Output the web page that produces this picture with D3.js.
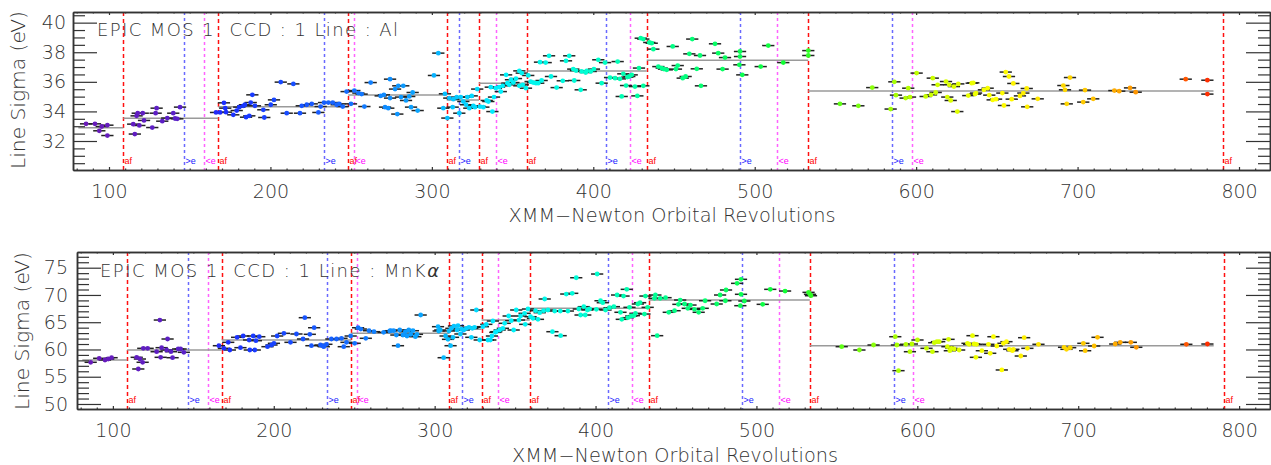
<!DOCTYPE html>
<html>
<head>
<meta charset="utf-8">
<script src="https://cdn.jsdelivr.net/npm/d3@7"></script>
<style>
  body { margin: 0; background: #fff; }
  svg text { font-family: "DejaVu Sans", "Liberation Sans", sans-serif; font-weight: 200; fill: #333; }
</style>
</head>
<body>
<svg id="chart" width="1271" height="465"></svg>
<script>
// ---- Al line width per observation (revolution, sigma in eV) ----
const alRev = [85.8,91.3,94.0,95.5,99.0,99.0,115.0,116.0,117.1,117.8,118.8,120.9,121.7,126.8,128.9,129.5,133.0,136.1,139.8,140.9,142.3,144.0,
  166.3,168.8,171.2,172.0,172.5,177.0,179.1,180.7,183.2,184.2,184.9,186.9,187.8,188.8,190.4,195.6,196.2,200.2,202.2,206.4,210.1,214.2,218.3,219.4,222.5,225.6,229.7,231.1,233.2,
  235.9,238.6,241.0,242.7,244.8,247.2,249.9,252.0,254.5,256.5,258.2,262.1,268.3,270.3,271.0,273.0,274.1,274.1,277.2,278.6,279.2,280.9,282.3,284.0,286.0,287.1,288.1,291.2,
  301.3,304.0,307.1,308.1,309.6,310.8,312.9,313.3,315.4,317.0,317.9,319.5,321.2,322.0,323.2,324.7,325.7,326.7,328.1,329.8,331.9,334.0,335.0,336.5,337.5,338.5,339.6,341.6,342.7,343.9,
  346.0,346.8,348.0,349.0,350.5,352.1,354.2,354.2,355.7,356.3,358.3,359.7,361.2,362.8,364.5,365.9,367.0,368.0,370.5,372.6,373.8,377.3,381.1,383.1,385.1,387.6,388.2,389.3,392.2,392.8,
  395.3,395.9,398.4,400.4,403.1,405.2,407.3,410.4,413.5,415.1,416.5,417.6,418.6,420.3,421.1,422.3,423.8,425.8,427.3,428.3,429.4,431.0,431.0,
  434.7,436.2,437.2,440.3,442.4,443.8,445.5,449.2,451.2,452.3,455.4,457.2,459.5,461.3,464.1,466.1,466.7,475.4,477.4,480.1,481.6,490.5,490.9,490.9,492.3,503.7,508.4,517.7,533.2,533.2,
  552.8,564.2,572.8,584.2,586.5,587.5,593.5,595.1,596.2,600.3,605.9,609.2,610.3,612.1,613.3,618.5,619.3,620.5,621.4,623.4,625.5,626.1,632.3,634.4,635.4,636.5,637.1,
  642.0,644.3,645.3,647.4,649.5,653.4,654.4,655.5,657.5,659.2,660.2,664.3,666.4,668.5,668.8,675.3,691.2,692.2,693.3,695.3,703.5,704.6,709.7,722.8,725.8,732.5,736.0,767.0,780.4,780.4];
const alSigma = [33.16,33.16,32.69,32.98,33.07,32.37,33.14,32.47,33.70,33.88,33.05,33.88,33.39,32.91,33.88,34.22,33.34,33.55,33.88,33.52,33.50,34.29,
  33.93,33.93,34.58,34.22,33.95,33.77,34.06,34.29,34.38,34.45,33.61,33.70,34.60,35.12,34.38,34.11,33.59,34.45,34.78,35.98,33.88,35.86,33.88,34.38,34.45,34.51,33.93,34.33,34.60,
  34.60,34.60,34.45,34.51,34.33,35.34,34.51,35.41,35.24,35.17,34.33,35.95,35.05,35.12,34.29,34.22,36.18,34.90,35.51,33.82,35.73,34.97,35.73,34.74,35.01,34.29,35.28,34.06,
  36.43,37.94,34.22,35.19,33.55,34.90,34.29,34.83,34.97,33.88,34.97,34.67,34.45,34.97,34.22,35.05,34.38,34.29,35.51,34.33,34.29,34.74,34.67,35.64,33.99,34.97,35.57,35.64,35.34,35.73,
  36.47,35.91,35.80,36.14,35.95,36.22,36.74,35.73,36.59,35.80,35.57,36.43,36.02,35.95,35.91,35.91,37.33,36.09,37.30,37.76,36.36,35.61,36.07,37.42,37.76,36.86,36.09,36.76,35.46,36.70,
  36.63,36.74,36.70,36.86,37.49,35.91,37.30,36.29,36.25,37.37,36.20,35.01,36.54,35.75,36.32,36.36,36.47,35.68,35.05,36.93,38.95,38.89,35.73,
  38.66,38.61,38.21,37.03,36.93,36.86,36.81,38.39,36.86,37.10,36.25,36.36,37.89,38.89,36.88,37.78,35.73,38.57,37.94,36.86,37.64,37.15,38.05,37.71,36.47,37.03,38.45,37.30,38.11,37.78,
  34.51,34.38,35.61,34.16,36.00,35.10,34.90,35.57,34.97,36.59,35.01,35.12,36.25,35.28,35.80,36.02,34.97,35.80,34.74,35.68,33.99,35.86,35.07,35.91,35.93,35.17,35.24,
  35.46,35.57,35.10,34.78,34.83,35.24,34.40,36.66,36.36,34.83,35.89,35.05,35.24,35.55,34.31,34.85,35.75,35.46,34.51,36.29,34.63,35.44,34.85,35.41,35.37,35.59,35.30,36.18,36.11,35.17];

// ---- Mn K-alpha line width per observation ----
const mnRev = [86.2,91.5,95.1,97.1,99.2,114.8,115.8,116.8,118.5,118.9,121.6,127.2,129.2,129.7,130.3,133.4,134.0,136.1,137.1,140.6,142.1,144.1,
  165.9,169.0,171.7,172.7,177.2,179.3,181.0,184.7,185.1,187.2,188.2,188.9,191.0,196.1,198.6,200.1,202.1,206.3,210.4,214.1,218.2,219.3,222.4,223.4,225.1,229.0,230.6,231.1,232.7,
  235.8,239.0,242.1,243.5,245.2,247.8,250.3,252.4,254.1,257.2,259.2,262.3,268.3,272.1,272.7,274.5,276.2,277.2,278.3,280.3,281.8,282.8,283.9,285.1,286.5,288.0,289.0,291.3,
  302.1,302.5,303.5,305.6,306.8,308.3,308.9,309.9,310.4,311.4,312.0,313.9,314.5,316.0,316.6,318.1,319.7,321.3,322.8,323.4,324.8,325.9,328.0,330.0,332.1,333.1,334.6,335.6,336.2,337.7,338.3,
  340.4,342.4,343.5,346.0,347.6,349.1,350.7,352.4,353.4,355.9,356.3,358.0,359.6,361.1,362.7,364.2,365.3,367.7,368.4,370.4,373.2,374.6,378.1,378.3,381.8,382.8,385.5,388.0,389.6,390.7,
  392.7,393.6,394.9,396.3,400.5,401.0,403.1,404.5,406.2,408.7,411.4,413.4,415.5,416.3,417.4,419.4,420.1,421.1,422.2,423.8,424.8,426.3,427.7,430.4,431.0,432.4,
  436.6,437.2,438.3,440.2,443.5,445.5,449.1,451.5,452.6,455.3,457.3,459.0,461.5,464.1,466.6,468.1,475.3,477.4,480.7,481.1,488.0,490.4,490.4,490.0,492.5,503.9,508.6,517.8,532.4,533.3,533.9,
  553.0,564.0,572.8,586.3,587.3,588.3,592.9,595.4,596.6,600.1,605.7,609.4,610.5,612.2,613.6,618.7,619.4,620.2,621.2,622.9,626.0,631.2,632.2,634.3,635.3,636.8,636.4,
  640.1,644.2,645.3,647.3,649.4,652.5,653.5,655.4,657.1,659.1,659.7,664.3,666.4,668.4,675.3,691.2,692.7,695.0,703.2,704.3,709.9,712.0,723.0,726.1,732.7,736.1,767.2,780.3];
const mnSigma = [57.65,58.38,58.07,58.25,58.49,58.56,56.42,58.25,57.65,60.21,60.21,59.59,65.40,58.56,60.33,59.90,61.92,59.59,58.49,60.09,60.09,59.48,
  60.69,60.21,61.31,59.90,62.23,60.33,62.47,61.74,59.90,62.47,59.90,61.61,62.34,60.51,60.82,61.13,62.47,62.96,61.31,62.84,61.92,65.83,62.78,60.69,63.99,60.82,60.64,60.51,60.95,
  61.92,61.92,62.05,60.51,61.31,62.47,61.13,63.99,63.75,62.05,63.44,63.26,63.14,63.39,63.44,63.44,62.65,60.69,63.57,62.65,63.26,62.47,63.57,62.78,63.44,62.34,62.78,66.32,
  64.18,63.39,63.57,58.49,62.47,61.86,63.39,60.69,63.88,62.23,64.30,63.57,64.36,62.84,63.75,63.57,63.88,64.06,62.23,63.88,64.06,67.24,61.74,64.18,64.61,61.74,61.74,62.47,65.22,63.14,63.26,
  63.57,63.88,64.80,66.14,65.28,63.57,67.24,65.40,66.14,66.63,64.61,67.42,66.01,65.71,67.11,65.53,66.75,67.11,69.26,67.24,63.26,67.05,67.05,62.53,70.17,67.05,70.30,73.16,67.42,66.32,
  67.85,66.32,67.24,67.42,67.36,73.84,68.94,68.58,67.24,67.66,67.85,69.99,66.82,65.53,69.80,71.03,65.83,67.73,66.14,66.20,66.63,68.34,68.58,66.50,69.80,67.73,
  69.38,69.99,62.53,69.38,69.50,66.82,67.11,68.28,69.07,68.34,67.55,68.15,67.36,66.82,67.55,68.94,68.34,69.99,68.94,70.91,72.13,72.87,70.12,68.03,68.89,68.28,71.03,70.72,70.48,70.12,69.86,
  60.51,59.90,60.82,62.34,60.82,56.11,60.95,59.59,61.00,61.74,60.21,59.59,61.24,61.43,61.43,60.51,61.86,59.77,60.21,60.09,59.90,61.13,60.95,62.53,61.00,60.95,58.56,
  59.77,60.95,59.30,62.34,60.64,56.24,61.13,61.43,60.03,59.77,60.03,58.80,62.16,60.21,60.95,60.40,60.03,60.33,61.13,59.77,60.64,62.23,61.00,61.31,61.31,60.40,60.95,61.00];

// half-span of each observation, in revolutions
const revHalfSpan = 3.8;

// mean level between consecutive anneal/filter events
const segStart = [81, 108.9, 167.7, 248.2, 309.2, 329.2, 359.1, 433.1, 533.2];
const segEnd   = [108.9, 167.7, 248.2, 309.2, 329.2, 359.1, 433.1, 533.2, 784.2];
const alMean = [32.90, 33.53, 34.32, 35.11, 34.77, 35.90, 36.73, 37.46, 35.38];
const mnMean = [58.07, 59.90, 61.74, 62.97, 63.70, 65.40, 67.55, 69.07, 60.69];

// instrument events (revolution)
const afEvents = [108.9, 167.7, 248.2, 309.2, 329.2, 359.1, 433.1, 533.2, 790.3];
const gtEvents = [146.6, 232.9, 317.0, 407.9, 490.9, 585.2];
const ltEvents = [159.0, 251.8, 339.5, 422.7, 514.0, 597.2];

// axis ticks
const revTicks = [100, 200, 300, 400, 500, 600, 700, 800];
const alTicks = [32, 34, 36, 38, 40];
const mnTicks = [50, 55, 60, 65, 70, 75];

const revDomain = [77.7, 819.2];

const svg = d3.select("#chart");

const colour = d3.scaleLinear()
  .domain([80, 145, 170, 240, 300, 340, 400, 440, 520, 560, 600, 650, 700, 740, 770, 785])
  .range(["#6a1ab8", "#5a20c8", "#1a2cff", "#1664ff", "#08b0ff", "#00f0ff", "#00ffd0", "#00ff90",
          "#10ff30", "#70ff10", "#c0ff00", "#ffff00", "#ffd000", "#ff9000", "#ff5000", "#ff2000"])
  .clamp(true);

// snap a coordinate to the pixel grid so thin lines stay sharp
const crisp = v => Math.round(v) + 0.5;

function drawPanel(cfg) {
  const g = svg.append("g");
  const x = d3.scaleLinear().domain(revDomain).range([cfg.left, cfg.right]);
  const y = d3.scaleLinear().domain(cfg.yDomain).range([cfg.bottom, cfg.top]);

  // event markers
  const events = [
    { revs: afEvents, label: "af", stroke: "#ff1010", text: "#ff0000", dash: "4,3", opacity: 1 },
    { revs: gtEvents, label: ">e", stroke: "#5050ff", text: "#2020ff", dash: "3,3", opacity: 0.85 },
    { revs: ltEvents, label: "<e", stroke: "#ff48ff", text: "#ff00ff", dash: "3,3", opacity: 0.85 }
  ];
  events.forEach(ev => {
    g.selectAll(null).data(ev.revs).enter().append("line")
      .attr("x1", d => crisp(x(d))).attr("x2", d => crisp(x(d)))
      .attr("y1", cfg.top).attr("y2", cfg.bottom)
      .attr("stroke", ev.stroke).attr("stroke-width", 1.5)
      .attr("stroke-dasharray", ev.dash).attr("opacity", ev.opacity);
    g.selectAll(null).data(ev.revs).enter().append("text")
      .attr("x", d => crisp(x(d)) + 1).attr("y", cfg.bottom - 6)
      .style("font-family", "'Liberation Sans', sans-serif").style("font-weight", 400)
      .style("font-size", "9px").style("fill", ev.text)
      .text(ev.label);
  });

  // mean levels
  g.selectAll(null).data(cfg.mean).enter().append("line")
    .attr("x1", (d, i) => x(segStart[i])).attr("x2", (d, i) => x(segEnd[i]))
    .attr("y1", d => y(d)).attr("y2", d => y(d))
    .attr("stroke", "#9a9a9a").attr("stroke-width", 1.5);

  // observations
  const pts = cfg.rev.map((r, i) => ({ r, s: cfg.sigma[i] }));
  g.selectAll(null).data(pts).enter().append("line")
    .attr("x1", d => x(d.r - revHalfSpan)).attr("x2", d => x(d.r + revHalfSpan))
    .attr("y1", d => y(d.s)).attr("y2", d => y(d.s))
    .attr("stroke", "#222").attr("stroke-width", 1.5);
  g.selectAll(null).data(pts).enter().append("circle")
    .attr("cx", d => x(d.r)).attr("cy", d => y(d.s)).attr("r", 2.4)
    .attr("fill", d => colour(d.r));

  // axes (ticks inside on all four sides)
  const minorX = d3.range(80, 820, 10).filter(v => v % 100 !== 0);
  const minorY = d3.range(Math.ceil(cfg.yDomain[0] / cfg.minorStep) * cfg.minorStep, cfg.yDomain[1], cfg.minorStep)
    .filter(v => !cfg.ticks.some(t => Math.abs(t - v) < 1e-6));
  const styleAxis = sel => {
    sel.selectAll("path").attr("stroke", "#333").attr("stroke-width", 1.5);
    sel.selectAll("line").attr("stroke", "#333").attr("stroke-width", 1.2);
    sel.selectAll("text").style("font-size", "19px").style("fill", "#333")
      .style("font-family", null).style("font-weight", null);
  };
  g.append("g").attr("transform", `translate(0,${cfg.bottom})`)
    .call(d3.axisBottom(x).tickValues(revTicks).tickSizeInner(-3).tickSizeOuter(0).tickPadding(15).tickFormat(d3.format("d")))
    .call(styleAxis);
  g.append("g").attr("transform", `translate(0,${cfg.bottom})`)
    .call(d3.axisBottom(x).tickValues(minorX).tickSizeInner(-1.5).tickSizeOuter(0).tickFormat(""))
    .call(styleAxis);
  g.append("g").attr("transform", `translate(0,${cfg.top})`)
    .call(d3.axisTop(x).tickValues(revTicks).tickSizeInner(-3).tickSizeOuter(0).tickFormat(""))
    .call(styleAxis);
  g.append("g").attr("transform", `translate(0,${cfg.top})`)
    .call(d3.axisTop(x).tickValues(minorX).tickSizeInner(-1.5).tickSizeOuter(0).tickFormat(""))
    .call(styleAxis);
  g.append("g").attr("transform", `translate(${cfg.left},0)`)
    .call(d3.axisLeft(y).tickValues(cfg.ticks).tickSizeInner(-24).tickSizeOuter(0).tickPadding(cfg.yPad).tickFormat(d3.format("d")))
    .call(styleAxis);
  g.append("g").attr("transform", `translate(${cfg.left},0)`)
    .call(d3.axisLeft(y).tickValues(minorY).tickSizeInner(-12).tickSizeOuter(0).tickFormat(""))
    .call(styleAxis);
  g.append("g").attr("transform", `translate(${cfg.right},0)`)
    .call(d3.axisRight(y).tickValues(cfg.ticks).tickSizeInner(-24).tickSizeOuter(0).tickFormat(""))
    .call(styleAxis);
  g.append("g").attr("transform", `translate(${cfg.right},0)`)
    .call(d3.axisRight(y).tickValues(minorY).tickSizeInner(-12).tickSizeOuter(0).tickFormat(""))
    .call(styleAxis);

  // titles
  g.append("text")
    .attr("x", cfg.xTitle[0]).attr("y", cfg.xTitle[1])
    .attr("text-anchor", "middle").attr("textLength", cfg.xTitle[2]).attr("lengthAdjust", "spacingAndGlyphs")
    .style("font-size", "19px")
    .text("XMM\u2212Newton Orbital Revolutions");
  g.append("text")
    .attr("transform", `translate(${cfg.yTitle[0]},${cfg.yTitle[1]}) rotate(-90)`)
    .attr("text-anchor", "middle").attr("textLength", cfg.yTitle[2]).attr("lengthAdjust", "spacingAndGlyphs")
    .style("font-size", "19px")
    .text("Line Sigma (eV)");
  const head = g.append("text")
    .attr("x", cfg.head[0]).attr("y", cfg.head[1])
    .attr("textLength", cfg.head[2]).attr("lengthAdjust", "spacing")
    .style("font-size", "18px").style("white-space", "pre");
  head.append("tspan").text("EPIC MOS 1  CCD : 1 Line : " + cfg.line);
  if (cfg.lineSuffix) head.append("tspan").style("font-style", "italic").style("font-weight", 400).text(cfg.lineSuffix);
}

drawPanel({
  left: 73, right: 1270, top: 12, bottom: 170,
  yDomain: [30.04, 40.72], ticks: alTicks, minorStep: 0.5, yPad: 7,
  rev: alRev, sigma: alSigma, mean: alMean,
  xTitle: [672, 222, 327], yTitle: [25, 90, 158], head: [97, 36, 301],
  line: "Al"
});

drawPanel({
  left: 77, right: 1270, top: 252, bottom: 409,
  yDomain: [49.08, 77.88], ticks: mnTicks, minorStep: 1, yPad: 9,
  rev: mnRev, sigma: mnSigma, mean: mnMean,
  xTitle: [675, 461.5, 326], yTitle: [29, 331, 158], head: [100, 276.7, 339],
  line: "MnK", lineSuffix: "\u03b1"
});
</script>
</body>
</html>
